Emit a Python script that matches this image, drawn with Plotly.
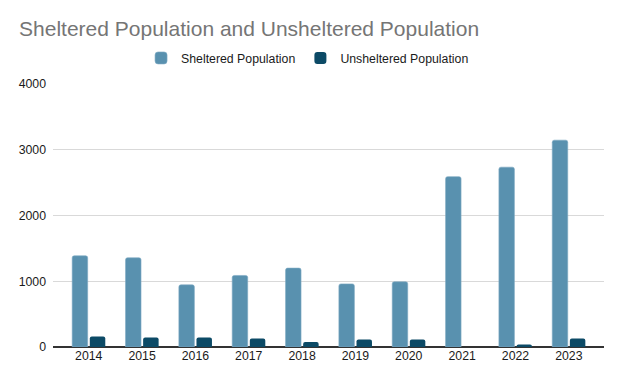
import plotly.graph_objects as go

years = ["2014", "2015", "2016", "2017", "2018", "2019", "2020", "2021", "2022", "2023"]
sheltered = [1387, 1357, 945, 1088, 1200, 960, 991, 2591, 2735, 3146]
unsheltered = [158, 143, 143, 128, 76, 113, 113, 0, 37, 128]
y_ticks = [0, 1000, 2000, 3000, 4000]

fig = go.Figure()
fig.add_trace(go.Bar(x=years, y=sheltered, name="Sheltered Population",
                     marker=dict(color="#5991AF", cornerradius=2,
                                 line=dict(width=0.6, color="#7DA9C2"))))
fig.add_trace(go.Bar(x=years, y=unsheltered, name="Unsheltered Population",
                     marker=dict(color="#0C4A66", cornerradius=2, line=dict(width=0))))

fig.update_layout(
    width=616, height=377,
    margin=dict(l=45, r=20, t=76, b=38),
    paper_bgcolor="white", plot_bgcolor="white",
    font=dict(family="Liberation Sans, Arial, sans-serif", size=12, color="#1a1a1a"),
    title=dict(text="Sheltered Population and Unsheltered Population",
               x=0.018, xanchor="left", y=0.944, yanchor="middle",
               font=dict(size=21, color="#757575")),
    legend=dict(orientation="h", x=0.462, xanchor="center", y=1.099, yanchor="middle",
                font=dict(size=12.3, color="#1a1a1a"), itemwidth=30, tracegroupgap=0),
    barmode="group", bargap=0.34, bargroupgap=0.12,
    showlegend=True,
)
fig.update_xaxes(range=[-0.67, 9.66], showgrid=False, showline=False, ticks="",
                 tickfont=dict(size=12.3, color="#1a1a1a"))
fig.update_yaxes(range=[0, 4000], tickvals=y_ticks, showgrid=True, gridcolor="#d9d9d9",
                 gridwidth=1, zeroline=True, zerolinecolor="#333333", zerolinewidth=1.5,
                 tickfont=dict(size=12.3, color="#1a1a1a"), ticks="", ticklabelstandoff=6)

fig.write_html("out.html")
